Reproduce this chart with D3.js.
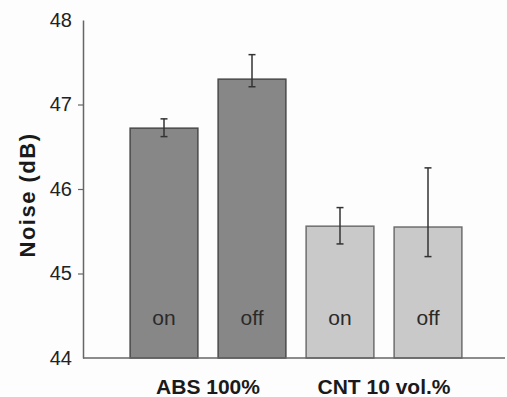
<!DOCTYPE html>
<html>
<head>
<meta charset="utf-8">
<script src="https://cdn.jsdelivr.net/npm/d3@7"></script>
<style>
  body { margin: 0; background: #fdfdfd; }
  svg { display: block; font-family: "Liberation Sans", Arial, sans-serif; }
</style>
</head>
<body>
<div id="chart"></div>
<script>
// data
var bars = ["ABS-on", "ABS-off", "CNT-on", "CNT-off"];
var barLabels = ["on", "off", "on", "off"];
var groups = ["ABS 100%", "CNT 10 vol.%"];
var noise = [46.72, 47.30, 45.56, 45.55];
var errLow = [46.62, 47.21, 45.35, 45.20];
var errHigh = [46.83, 47.59, 45.78, 46.25];
var yTicks = [44, 45, 46, 47, 48];

var width = 507, height = 397;
var fills = ["#878787", "#878787", "#c9c9c9", "#c9c9c9"];
var strokes = ["#4a4a4a", "#4a4a4a", "#6e6e6e", "#6e6e6e"];

var svg = d3.select('#chart').append('svg')
  .attr('width', width)
  .attr('height', height);

svg.append('rect').attr('width', width).attr('height', height).attr('fill', '#fdfdfd');

var y = d3.scaleLinear().domain([44, 48]).range([358, 20]);
var x = d3.scaleBand().domain(bars).range([120, 472]).paddingInner(0.23).paddingOuter(0.115);

// bars
svg.selectAll('rect.bar')
  .data(bars)
  .enter()
  .append('rect')
  .attr('class', 'bar')
  .attr('x', function (d) { return x(d); })
  .attr('width', x.bandwidth())
  .attr('y', function (d, i) { return y(noise[i]); })
  .attr('height', function (d, i) { return y(44) - y(noise[i]); })
  .attr('fill', function (d, i) { return fills[i]; })
  .attr('stroke', function (d, i) { return strokes[i]; })
  .attr('stroke-width', 1.5);

// on / off labels inside bars
svg.selectAll('text.state')
  .data(bars)
  .enter()
  .append('text')
  .attr('class', 'state')
  .attr('x', function (d) { return x(d) + x.bandwidth() / 2; })
  .attr('y', y(44) - 33)
  .attr('text-anchor', 'middle')
  .style('font-size', '21px')
  .style('fill', '#2a2a2a')
  .text(function (d, i) { return barLabels[i]; });

// error bars
var eb = svg.selectAll('g.err')
  .data(bars)
  .enter()
  .append('g')
  .attr('class', 'err')
  .attr('stroke', '#333')
  .attr('stroke-width', 1.5);

eb.append('line')
  .attr('x1', function (d) { return x(d) + x.bandwidth() / 2; })
  .attr('x2', function (d) { return x(d) + x.bandwidth() / 2; })
  .attr('y1', function (d, i) { return y(errLow[i]); })
  .attr('y2', function (d, i) { return y(errHigh[i]); });
eb.append('line')
  .attr('x1', function (d) { return x(d) + x.bandwidth() / 2 - 3.5; })
  .attr('x2', function (d) { return x(d) + x.bandwidth() / 2 + 3.5; })
  .attr('y1', function (d, i) { return y(errLow[i]); })
  .attr('y2', function (d, i) { return y(errLow[i]); });
eb.append('line')
  .attr('x1', function (d) { return x(d) + x.bandwidth() / 2 - 3.5; })
  .attr('x2', function (d) { return x(d) + x.bandwidth() / 2 + 3.5; })
  .attr('y1', function (d, i) { return y(errHigh[i]); })
  .attr('y2', function (d, i) { return y(errHigh[i]); });

// y axis
var yAxis = svg.append('g')
  .attr('transform', 'translate(83,0)')
  .call(d3.axisLeft(y).tickValues(yTicks).tickFormat(d3.format('d')).tickSize(5).tickSizeOuter(0).tickPadding(6));
yAxis.attr('font-family', null).attr('font-size', null);
yAxis.select('.domain').attr('stroke', '#666').attr('stroke-width', 1.5);
yAxis.selectAll('.tick line').attr('stroke', '#666').attr('stroke-width', 1.2)
  .attr('visibility', function (d) { return (d === 44 || d === 48) ? 'hidden' : null; });
yAxis.selectAll('.tick text')
  .style('font-size', '20px')
  .style('fill', '#222');

// baseline
svg.append('line')
  .attr('x1', 83).attr('x2', 505)
  .attr('y1', y(44)).attr('y2', y(44))
  .attr('stroke', '#666').attr('stroke-width', 1.5);

// group labels, centred under each pair of bars
svg.selectAll('text.group')
  .data(groups)
  .enter()
  .append('text')
  .attr('class', 'group')
  .attr('x', function (d, i) {
    return (x(bars[i * 2]) + x(bars[i * 2 + 1]) + x.bandwidth()) / 2;
  })
  .attr('y', 394)
  .attr('text-anchor', 'middle')
  .style('font-size', '21px')
  .style('font-weight', 'bold')
  .style('fill', '#1a1a1a')
  .text(function (d) { return d; });

// y title
svg.append('text')
  .attr('transform', 'translate(35,195) rotate(-90)')
  .attr('text-anchor', 'middle')
  .style('font-size', '22px')
  .style('font-weight', 'bold')
  .style('letter-spacing', '1.5px')
  .style('fill', '#1a1a1a')
  .text('Noise (dB)');
</script>
</body>
</html>
